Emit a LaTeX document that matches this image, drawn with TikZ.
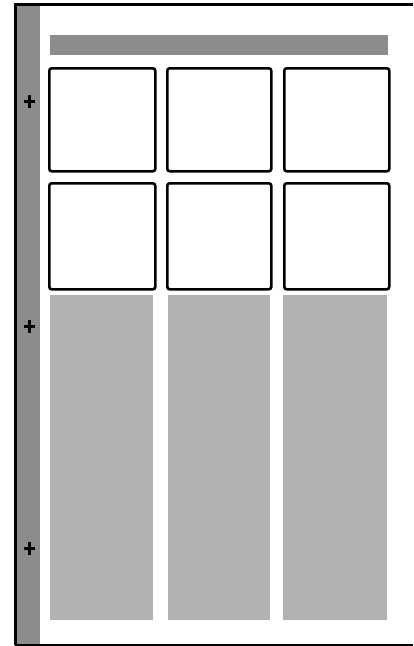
\documentclass[tikz,border=0pt]{standalone}
\begin{document}
\begin{tikzpicture}[x=1pt,y=-1pt,
  panel/.style={draw=black,line width=2.6pt,rounded corners=2.5pt,fill=white},
  stripfill/.style={fill=black!45},
  colfill/.style={fill=black!30},
  plusmark/.style={line width=3pt}]
\useasboundingbox (0,0) rectangle (413,646);
% left shaded strip
\fill[stripfill] (16,3) rectangle (40,645);
% frame
\draw[line width=3pt] (15,645) -- (15,4) -- (413,4);
\draw[line width=1.8pt] (15,645) -- (413,645);
% plus marks
\foreach \yy/\nm in {101/pa,326/pb,548/pc}{
  \coordinate (\nm) at (29,\yy);
  \draw[plusmark] ([xshift=-5.5pt]\nm) -- ([xshift=5.5pt]\nm);
  \draw[plusmark] ([yshift=-6.5pt]\nm) -- ([yshift=6.5pt]\nm);
}
% top bar
\fill[stripfill] (50,35) rectangle (388,55);
% boxes
\node[panel,minimum width=106pt,minimum height=103pt,anchor=north west] (b11) at (48,67) {};
\node[panel,minimum width=104pt,minimum height=103pt,anchor=north west] (b12) at (166,67) {};
\node[panel,minimum width=105pt,minimum height=103pt,anchor=north west] (b13) at (283,67) {};
\node[panel,minimum width=106pt,minimum height=106pt,anchor=north west] (b21) at (48,182) {};
\node[panel,minimum width=104pt,minimum height=106pt,anchor=north west] (b22) at (166,182) {};
\node[panel,minimum width=105pt,minimum height=106pt,anchor=north west] (b23) at (283,182) {};
% shaded columns
\fill[colfill] (50,295) rectangle (153,620);
\fill[colfill] (168,295) rectangle (270,620);
\fill[colfill] (283,295) rectangle (387,620);
\end{tikzpicture}
\end{document}
